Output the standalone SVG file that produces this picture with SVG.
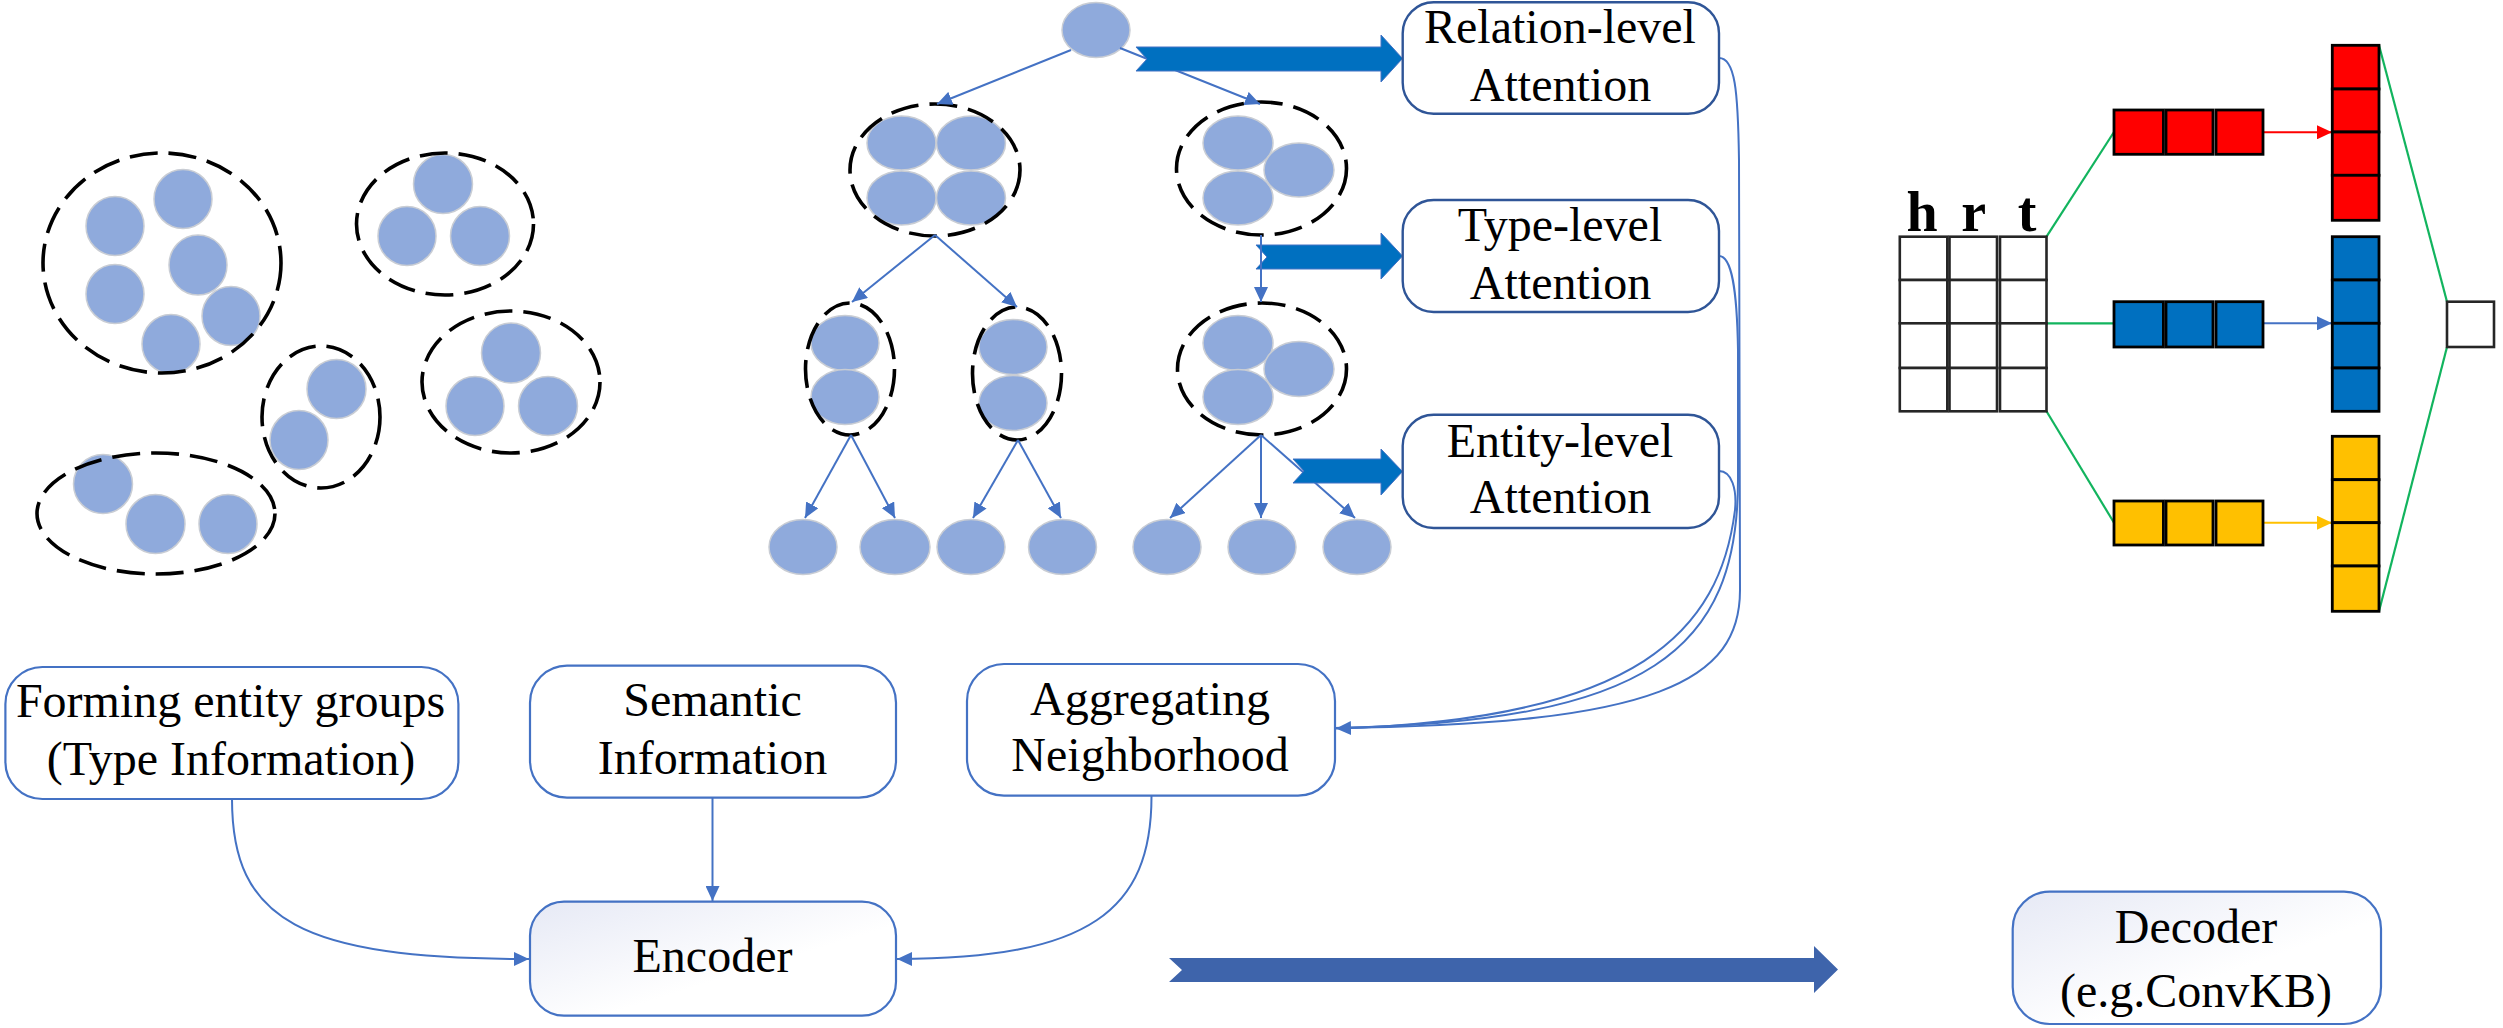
<svg xmlns="http://www.w3.org/2000/svg" width="2503" height="1028" viewBox="0 0 2503 1028">
<style>
.c{fill:#8FAADC;stroke:#C9CDD4;stroke-width:1.5}
.d{fill:none;stroke:#000;stroke-width:3.6;stroke-dasharray:28 11}
.l{fill:none;stroke:#4472C4;stroke-width:2}
.a{marker-end:url(#ah)}
.big{fill:#0070C0;stroke:#4472C4;stroke-width:1}
.bt{fill:#fff;stroke:#2F5597;stroke-width:2.4}
.bb{fill:#fff;stroke:#4472C4;stroke-width:2.2}
.g{fill:url(#gr);stroke:#4472C4;stroke-width:2.2}
text{font-family:"Liberation Serif","Times New Roman",serif;font-size:48px;fill:#000;text-anchor:middle}
.hrt{font-size:56px;font-weight:bold}
.w{fill:#fff;stroke:#262626;stroke-width:2.6}
.k{stroke:#000;stroke-width:2.8}
.red{fill:#F00}.blu{fill:#0070C0}.yel{fill:#FFC000}
.gl{fill:none;stroke:#12B45E;stroke-width:2.2}
</style>
<defs>
<marker id="ah" markerUnits="userSpaceOnUse" markerWidth="16" markerHeight="14" refX="15" refY="7" orient="auto"><path d="M0 0L15 7L0 14z" fill="#4472C4"/></marker>
<marker id="ar" markerUnits="userSpaceOnUse" markerWidth="16" markerHeight="14" refX="15" refY="7" orient="auto"><path d="M0 0L15 7L0 14z" fill="#F00"/></marker>
<marker id="ay" markerUnits="userSpaceOnUse" markerWidth="16" markerHeight="14" refX="15" refY="7" orient="auto"><path d="M0 0L15 7L0 14z" fill="#FFC000"/></marker>
<linearGradient id="gr" x1="0" y1="0" x2="1" y2="1"><stop offset="0" stop-color="#E6E9F5"/><stop offset="0.6" stop-color="#fff"/></linearGradient>
</defs>

<g id="group-1"><ellipse class="c" cx="183" cy="199" rx="29" ry="29.5"/><ellipse class="c" cx="115" cy="226" rx="29" ry="29.5"/><ellipse class="c" cx="198" cy="265" rx="29" ry="30"/><ellipse class="c" cx="115" cy="294" rx="29" ry="29.5"/><ellipse class="c" cx="231" cy="316" rx="29" ry="29.5"/><ellipse class="c" cx="171" cy="344" rx="29" ry="29.5"/><ellipse class="d" cx="162" cy="263" rx="119" ry="110"/></g>
<g id="group-2"><ellipse class="c" cx="443" cy="184" rx="29.5" ry="29.5"/><ellipse class="c" cx="407" cy="236" rx="29" ry="29.5"/><ellipse class="c" cx="480" cy="236" rx="29.5" ry="29.5"/><ellipse class="d" cx="445" cy="224" rx="88.5" ry="71"/></g>
<g id="group-3"><ellipse class="c" cx="511" cy="353" rx="29.5" ry="30"/><ellipse class="c" cx="475" cy="406" rx="29" ry="29.5"/><ellipse class="c" cx="548" cy="406" rx="29.5" ry="29.5"/><ellipse class="d" cx="511" cy="382" rx="89" ry="71"/></g>
<g id="group-4"><ellipse class="c" cx="336.500" cy="389" rx="29.500" ry="29.500"/><ellipse class="c" cx="299" cy="440" rx="29" ry="29.500"/><ellipse class="d" cx="321" cy="417" rx="59" ry="71"/></g>
<g id="group-5"><ellipse class="c" cx="103" cy="484" rx="29.500" ry="29.500"/><ellipse class="c" cx="155.500" cy="524" rx="29.500" ry="29.500"/><ellipse class="c" cx="228" cy="524" rx="29" ry="29.500"/><ellipse class="d" cx="156" cy="513.500" rx="119" ry="60.500"/></g>

<g id="root"><ellipse class="c" cx="1096" cy="30" rx="34" ry="27.500"/></g>
<g id="tree-a"><ellipse class="c" cx="901.500" cy="143" rx="34.500" ry="27"/><ellipse class="c" cx="971" cy="143" rx="34.500" ry="27"/><ellipse class="c" cx="901.500" cy="198" rx="34.500" ry="27"/><ellipse class="c" cx="971" cy="198" rx="34.500" ry="27"/><ellipse class="d" cx="935" cy="170" rx="85" ry="66"/></g>
<g id="tree-e"><ellipse class="c" cx="1238" cy="143" rx="35" ry="27"/><ellipse class="c" cx="1238" cy="198" rx="35" ry="27"/><ellipse class="c" cx="1299" cy="170" rx="35" ry="27"/><ellipse class="d" cx="1261.500" cy="168.500" rx="85" ry="66.500"/></g>
<g id="tree-b"><ellipse class="c" cx="845" cy="343" rx="34" ry="27.500"/><ellipse class="c" cx="845" cy="397" rx="34" ry="27.500"/><ellipse class="d" cx="850" cy="369" rx="44.500" ry="66"/></g>
<g id="tree-c"><ellipse class="c" cx="1013" cy="347" rx="34" ry="27.500"/><ellipse class="c" cx="1013" cy="403" rx="34" ry="27.500"/><ellipse class="d" cx="1017" cy="373.500" rx="44.500" ry="66.500"/></g>
<g id="tree-d"><ellipse class="c" cx="1238" cy="343" rx="35" ry="27.500"/><ellipse class="c" cx="1238" cy="397" rx="35" ry="27.500"/><ellipse class="c" cx="1299" cy="369" rx="35" ry="27.500"/><ellipse class="d" cx="1262" cy="369" rx="84.500" ry="66"/></g>
<g id="leaves"><ellipse class="c" cx="803" cy="547" rx="34" ry="27.500"/><ellipse class="c" cx="895" cy="547" rx="35" ry="27.500"/><ellipse class="c" cx="971" cy="547" rx="34" ry="27.500"/><ellipse class="c" cx="1062.500" cy="547" rx="34" ry="27.500"/><ellipse class="c" cx="1167" cy="547" rx="34" ry="27.500"/><ellipse class="c" cx="1262" cy="547" rx="34" ry="27.500"/><ellipse class="c" cx="1357" cy="547" rx="34" ry="27.500"/></g>

<g id="connectors">
<path class="l a" d="M1071 50L937 104"/>
<path class="l a" d="M1120 48L1260 104"/>
<path class="l a" d="M935 235L852 302"/>
<path class="l a" d="M935 235L1017 307"/>
<path class="l a" d="M851 435L805 518"/>
<path class="l a" d="M851 435L895 518"/>
<path class="l a" d="M1018 440L973 518"/>
<path class="l a" d="M1018 440L1061 518"/>
<path class="l a" d="M1261 435L1170 518"/>
<path class="l a" d="M1261 435L1261 518"/>
<path class="l a" d="M1261 435L1355 518"/>
<path class="big" d="M1136 47H1381V35L1402.500 58.500L1381 82V71H1136L1147 59z"/>
<path class="big" d="M1256 245H1381V233L1402.500 256L1381 279V269H1256L1267 257z"/>
<path class="big" d="M1293 459H1381V449L1402.500 471.500L1381 495V483H1293L1304 471z"/>
<path class="l a" d="M1261 235L1261 302"/>
<path class="l" d="M1719 58C1735 58 1738 90 1739 160L1740 590C1740 680 1660 725 1335 728"/>
<path class="l" d="M1719 256C1732 256 1737 290 1738 350L1738 480C1738 650 1650 722 1335 728"/>
<path class="l a" d="M1719 471C1732 471 1737 490 1735 510C1720 630 1640 720 1336 728.500"/>
<path class="l a" d="M232 799C232 920 300 959 529 959"/>
<path class="l a" d="M712.500 798L712.500 901"/>
<path class="l a" d="M1151.500 796C1151.500 910 1090 959 897 959"/>
<path d="M1169 958H1814V946L1838 969.500L1814 993V982H1169L1182 970z" fill="#3E64AB"/>
<path class="gl" d="M2046.500 236.700L2114 132"/>
<path class="gl" d="M2046.500 323.300L2114 323.300"/>
<path class="gl" d="M2046.500 411.300L2114 522.700"/>
<path class="gl" d="M2379 45.300L2447 301.700"/>
<path class="gl" d="M2379 611.300L2447 347"/>
<path d="M2263 132.300L2332 132.300" fill="none" stroke="#F00" stroke-width="2" marker-end="url(#ar)"/>
<path class="l a" d="M2263 323.300L2332 323.300"/>
<path d="M2263 522.700L2332 522.700" fill="none" stroke="#FFC000" stroke-width="2" marker-end="url(#ay)"/>
</g>

<g id="relation-attention"><rect class="bt" x="1402.700" y="2.300" width="316.300" height="111.400" rx="31"/><text x="1560" y="42.700">Relation-level</text><text x="1560.500" y="101">Attention</text></g>
<g id="type-attention"><rect class="bt" x="1402.700" y="200" width="316.300" height="112" rx="31"/><text x="1560" y="240.700">Type-level</text><text x="1560.500" y="298.500">Attention</text></g>
<g id="entity-attention"><rect class="bt" x="1402.700" y="414.700" width="316.300" height="113.300" rx="31"/><text x="1560" y="456.700">Entity-level</text><text x="1560.500" y="513">Attention</text></g>

<g id="forming"><rect class="bb" x="5.400" y="667" width="453" height="132" rx="37"/><text x="230.600" y="717.300">Forming entity groups</text><text x="231" y="775">(Type Information)</text></g>
<g id="semantic"><rect class="bb" x="530" y="665.700" width="366" height="132" rx="37"/><text x="712.500" y="716">Semantic</text><text x="712.500" y="774">Information</text></g>
<g id="aggregating"><rect class="bb" x="967" y="664" width="368" height="131.700" rx="37"/><text x="1150" y="715">Aggregating</text><text x="1150" y="770.700">Neighborhood</text></g>
<g id="encoder"><rect class="g" x="530" y="901.700" width="366" height="114" rx="34"/><text x="712.500" y="971.700">Encoder</text></g>
<g id="decoder"><rect class="g" x="2012.700" y="891.700" width="368.300" height="132.300" rx="37"/><text x="2196" y="942.700">Decoder</text><text x="2196" y="1006.700">(e.g.ConvKB)</text></g>

<g id="hrt-matrix">
<text class="hrt" x="1922" y="230.700">h</text><text class="hrt" x="1973.600" y="230.700">r</text><text class="hrt" x="2027" y="230.700">t</text>
<rect class="w" x="1899.800" y="236.700" width="47.500" height="43.300"/><rect class="w" x="1899.800" y="280" width="47.500" height="43.300"/><rect class="w" x="1899.800" y="323.300" width="47.500" height="44.700"/><rect class="w" x="1899.800" y="368" width="47.500" height="43.300"/>
<rect class="w" x="1949.500" y="236.700" width="47.500" height="43.300"/><rect class="w" x="1949.500" y="280" width="47.500" height="43.300"/><rect class="w" x="1949.500" y="323.300" width="47.500" height="44.700"/><rect class="w" x="1949.500" y="368" width="47.500" height="43.300"/>
<rect class="w" x="2000" y="236.700" width="46.500" height="43.300"/><rect class="w" x="2000" y="280" width="46.500" height="43.300"/><rect class="w" x="2000" y="323.300" width="46.500" height="44.700"/><rect class="w" x="2000" y="368" width="46.500" height="43.300"/>
</g>
<g id="red-row"><rect class="k red" x="2114" y="110" width="49.400" height="44.300"/><rect class="k red" x="2166" y="110" width="47" height="44.300"/><rect class="k red" x="2216" y="110" width="47" height="44.300"/></g>
<g id="blue-row"><rect class="k blu" x="2114" y="301.700" width="49.400" height="45.300"/><rect class="k blu" x="2166" y="301.700" width="47" height="45.300"/><rect class="k blu" x="2216" y="301.700" width="47" height="45.300"/></g>
<g id="yellow-row"><rect class="k yel" x="2114" y="501" width="49.400" height="44"/><rect class="k yel" x="2166" y="501" width="47" height="44"/><rect class="k yel" x="2216" y="501" width="47" height="44"/></g>
<g id="red-col"><rect class="k red" x="2332.300" y="45.300" width="46.700" height="43.700"/><rect class="k red" x="2332.300" y="89" width="46.700" height="43"/><rect class="k red" x="2332.300" y="132" width="46.700" height="43.300"/><rect class="k red" x="2332.300" y="175.300" width="46.700" height="45"/></g>
<g id="blue-col"><rect class="k blu" x="2332.300" y="236.700" width="46.700" height="43.300"/><rect class="k blu" x="2332.300" y="280" width="46.700" height="43.300"/><rect class="k blu" x="2332.300" y="323.300" width="46.700" height="44.700"/><rect class="k blu" x="2332.300" y="368" width="46.700" height="43.300"/></g>
<g id="yellow-col"><rect class="k yel" x="2332.300" y="436.300" width="46.700" height="43.400"/><rect class="k yel" x="2332.300" y="479.700" width="46.700" height="43"/><rect class="k yel" x="2332.300" y="522.700" width="46.700" height="43.300"/><rect class="k yel" x="2332.300" y="566" width="46.700" height="45.300"/></g>
<g id="output"><rect class="w" x="2447" y="301.700" width="47" height="45.300"/></g>
</svg>
